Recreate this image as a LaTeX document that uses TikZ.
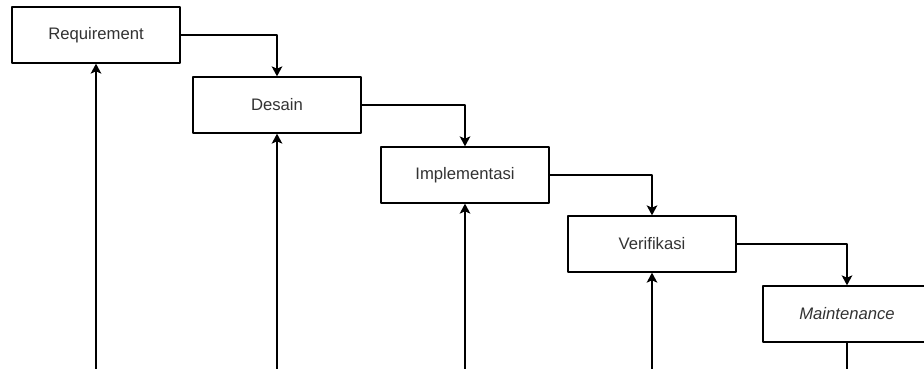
\documentclass[tikz,border=0pt]{standalone}
\usepackage{fontspec}
\setmainfont{Liberation Sans}
\usepackage{xcolor}
\usetikzlibrary{arrows.meta}
\definecolor{txtgray}{HTML}{333333}
\tikzset{
  stage/.style={draw=black,line width=1pt,fill=white,minimum width=126pt,minimum height=42pt,
    inner sep=0pt,text=txtgray,font=\fontsize{12.5}{15}\selectfont},
  flow/.style={->,line width=1pt,draw=black}
}

\begin{document}
\begin{tikzpicture}
			[line cap=round,line join=round,>={Stealth[length=7.5pt,width=8pt,inset=1.8pt]},x=0.75pt,y=-0.75pt]
			\path[use as bounding box,clip] (0,0) rectangle (924,368);
			\node[stage] (req) at (96,35) {Requirement};
			\node[stage] (des) at (277,105) {Desain};
			\node[stage] (imp) at (465,175) {Implementasi};
			\node[stage] (ver) at (652,244) {Verifikasi};
			\node[stage] (mai) at (847,314) {\itshape Maintenance};
			\coordinate (b1) at (96,372);
			\coordinate (b2) at (277,372);
			\coordinate (b3) at (465,372);
			\coordinate (b4) at (652,372);
			\coordinate (b5) at (847,372);
			\draw [flow] (req.east) -| (des.north);
			\draw [flow] (des.east) -| (imp.north);
			\draw [flow] (imp.east) -| (ver.north);
			\draw [flow] (ver.east) -| (mai.north);
			\draw [flow] (b1) -- (req.south);
			\draw [flow] (b2) -- (des.south);
			\draw [flow] (b3) -- (imp.south);
			\draw [flow] (b4) -- (ver.south);
			\draw [line width=1pt] (mai.south) -- (b5);
		\end{tikzpicture}
\end{document}
